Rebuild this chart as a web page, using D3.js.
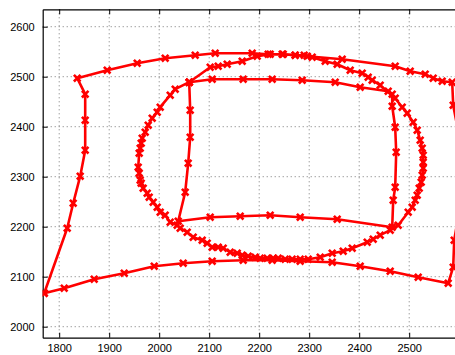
<!DOCTYPE html>
<html>
<head>
<meta charset="utf-8">
<script src="https://cdn.jsdelivr.net/npm/d3@7"></script>
<style>
  html, body { margin: 0; padding: 0; background: #fff; }
  svg { display: block; }
</style>
</head>
<body>
<svg id="chart" width="455" height="355"></svg>
<script>
// ---- data (x, y) ----
const outerX = [1770,1816,1828,1842,1852,1852,1852,1836,1896,1956,2012,2072,2112,2186,2218,2246,2272,2296,2366,2472,2502,2532,2548,2566,2586,2588,2600,2604,2600,2590,2588,2578,2518,2462,2402,2346,2282,2226,2168,2106,2048,1990,1930,1870,1810,1770];
const outerY = [2067,2197,2247,2301,2353,2413,2465,2497,2513,2527,2537,2543,2547,2547,2545,2545,2543,2541,2535,2521,2511,2505,2497,2491,2489,2443,2380,2300,2230,2173,2119,2087,2099,2111,2121,2129,2131,2133,2133,2131,2127,2121,2107,2095,2077,2067];

const ellipseX = [2060,2102,2118,2136,2166,2196,2222,2248,2272,2290,2306,2332,2356,2382,2406,2418,2426,2442,2472,2486,2496,2508,2516,2522,2526,2528,2528,2528,2526,2524,2520,2516,2512,2506,2498,2478,2462,2442,2428,2416,2386,2368,2346,2322,2298,2282,2266,2252,2238,2228,2216,2202,2192,2178,2166,2156,2142,2128,2118,2106,2096,2086,2068,2056,2042,2036,2022,2012,2002,1996,1988,1980,1976,1968,1964,1962,1960,1958,1960,1962,1964,1966,1972,1978,1986,1996,2002,2022,2032,2060];
const ellipseY = [2489,2519,2521,2525,2531,2541,2545,2545,2543,2543,2539,2531,2525,2513,2507,2499,2493,2483,2457,2439,2427,2409,2393,2373,2357,2343,2329,2317,2303,2289,2277,2263,2253,2239,2229,2203,2193,2183,2175,2169,2157,2151,2147,2139,2135,2135,2135,2135,2137,2137,2137,2137,2139,2141,2143,2147,2149,2157,2159,2159,2167,2173,2179,2189,2197,2203,2209,2223,2229,2239,2249,2259,2267,2277,2287,2293,2307,2319,2347,2357,2367,2377,2389,2403,2417,2429,2439,2463,2475,2489];

const rectX = [2060,2106,2168,2226,2286,2352,2402,2458,2466,2466,2472,2474,2472,2468,2466,2356,2282,2222,2162,2102,2038,2052,2058,2062,2062,2060];
const rectY = [2489,2495,2495,2495,2493,2489,2479,2471,2465,2441,2399,2349,2279,2253,2199,2215,2219,2223,2221,2219,2211,2269,2327,2379,2433,2489];

const xTicks = [1800,1900,2000,2100,2200,2300,2400,2500];
const yTicks = [2000,2100,2200,2300,2400,2500,2600];

// ---- layout ----
const mLeft = 42.7, mRight = 464.2, mTop = 9.3, mBottom = 337.7;
const x = d3.scaleLinear().domain([1767, 2610]).range([mLeft, mRight]);
const y = d3.scaleLinear().domain([1978, 2634.8]).range([mBottom, mTop]);

const svg = d3.select("#chart");
const font = "'Liberation Sans', Arial, Helvetica, sans-serif";

svg.append("defs").append("clipPath").attr("id", "clip")
  .append("rect").attr("x", mLeft).attr("y", mTop)
  .attr("width", mRight - mLeft).attr("height", mBottom - mTop);

// grid
const grid = svg.append("g");
grid.selectAll(".gx").data(xTicks).join("line")
  .attr("x1", d => x(d)).attr("x2", d => x(d))
  .attr("y1", mTop).attr("y2", mBottom)
  .attr("stroke", "#777").attr("stroke-width", 1)
  .attr("stroke-dasharray", "1,3");
grid.selectAll(".gy").data(yTicks).join("line")
  .attr("x1", mLeft).attr("x2", mRight)
  .attr("y1", d => y(d)).attr("y2", d => y(d))
  .attr("stroke", "#777").attr("stroke-width", 1)
  .attr("stroke-dasharray", "1,3");

// axes
const axB = svg.append("g").attr("transform", `translate(0,${mBottom})`)
  .call(d3.axisBottom(x).tickValues(xTicks).tickSizeInner(-5).tickSizeOuter(0).tickPadding(7).tickFormat(d3.format("d")));
const axT = svg.append("g").attr("transform", `translate(0,${mTop})`)
  .call(d3.axisTop(x).tickValues(xTicks).tickSizeInner(-5).tickSizeOuter(0).tickFormat(""));
const axL = svg.append("g").attr("transform", `translate(${mLeft},0)`)
  .call(d3.axisLeft(y).tickValues(yTicks).tickSizeInner(-5).tickSizeOuter(0).tickPadding(8).tickFormat(d3.format("d")));
[axB, axT, axL].forEach(a => {
  a.select(".domain").attr("stroke", "#000").attr("stroke-width", 1.2);
  a.selectAll(".tick line").attr("stroke", "#000").attr("stroke-width", 1);
  a.selectAll(".tick text").attr("fill", "#000").style("font-family", font).style("font-size", "11px");
});

// data
const plot = svg.append("g").attr("clip-path", "url(#clip)");
const line = d3.line().x(d => x(d[0])).y(d => y(d[1]));
const series = [
  d3.zip(outerX, outerY),
  d3.zip(ellipseX, ellipseY),
  d3.zip(rectX, rectY)
];
series.forEach(pts => {
  plot.append("path").datum(pts).attr("d", line)
    .attr("fill", "none").attr("stroke", "#ff0000")
    .attr("stroke-width", 2.6).attr("stroke-linejoin", "round");
});
series.forEach(pts => {
  plot.selectAll(null).data(pts).join("path")
    .attr("transform", d => `translate(${x(d[0])},${y(d[1])})`)
    .attr("d", "M-3.3,-3.3L3.3,3.3M-3.3,3.3L3.3,-3.3")
    .attr("stroke", "#ff0000").attr("stroke-width", 2.6).attr("fill", "none");
});
</script>
</body>
</html>
